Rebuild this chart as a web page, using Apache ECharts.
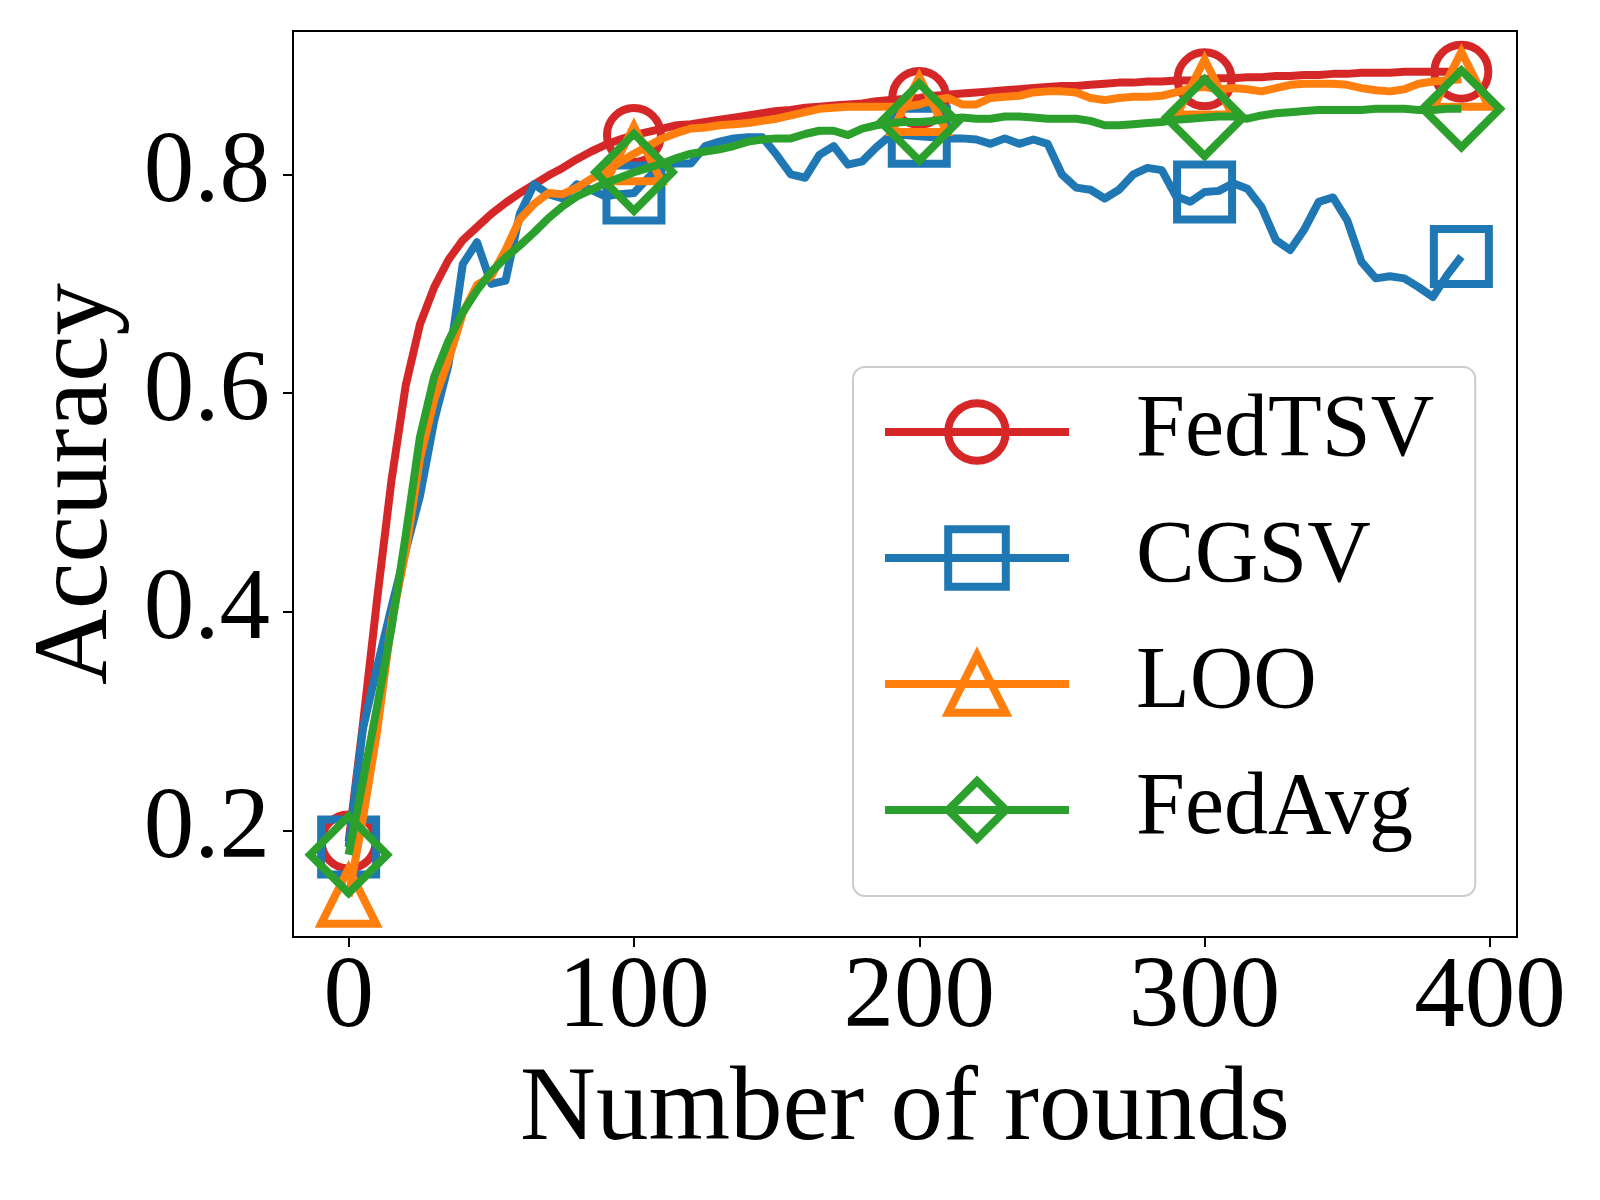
<!DOCTYPE html>
<html>
<head>
<meta charset="utf-8">
<script src="https://cdn.jsdelivr.net/npm/echarts@6/dist/echarts.min.js"></script>
<style>
  html, body { margin: 0; background: #fff; }
  #chart { width: 1600px; height: 1200px; }
</style>
</head>
<body>
<div id="chart"></div>
<script>
// rounds 0..390, one reading every 5 rounds
const rounds = Array.from({ length: 79 }, (_, i) => i * 5)
const markerRounds = [0, 100, 200, 300, 390]
const xTicks = [0, 100, 200, 300, 400]
const yTicks = [0.2, 0.4, 0.6, 0.8]

const fedTSV = [
  0.190, 0.297, 0.412, 0.520, 0.607, 0.663, 0.697, 0.722, 0.740, 0.752,
  0.764, 0.774, 0.783, 0.791, 0.799, 0.806, 0.814, 0.821, 0.827, 0.832,
  0.836, 0.839, 0.842, 0.845, 0.846, 0.848, 0.850, 0.852, 0.854, 0.856,
  0.858, 0.859, 0.861, 0.862, 0.863, 0.864, 0.865, 0.867, 0.868, 0.869,
  0.870, 0.872, 0.873, 0.874, 0.875, 0.876, 0.877, 0.878, 0.879, 0.880,
  0.881, 0.881, 0.882, 0.883, 0.884, 0.884, 0.885, 0.885, 0.886, 0.886,
  0.887, 0.888, 0.888, 0.889, 0.889, 0.890, 0.890, 0.891, 0.891, 0.892,
  0.892, 0.893, 0.893, 0.893, 0.894, 0.894, 0.894, 0.894, 0.894
]
const cgsv = [
  0.185, 0.293, 0.350, 0.404, 0.456, 0.506, 0.575, 0.626, 0.718, 0.738,
  0.700, 0.703, 0.764, 0.791, 0.782, 0.778, 0.791, 0.786, 0.780, 0.782,
  0.783, 0.797, 0.809, 0.810, 0.810, 0.826, 0.830, 0.833, 0.834, 0.834,
  0.818, 0.800, 0.797, 0.818, 0.826, 0.809, 0.812, 0.825, 0.836, 0.836,
  0.835, 0.834, 0.833, 0.833, 0.832, 0.828, 0.833, 0.828, 0.832, 0.828,
  0.800, 0.788, 0.786, 0.778, 0.786, 0.800, 0.806, 0.804, 0.780, 0.775,
  0.784, 0.785, 0.792, 0.787, 0.770, 0.740, 0.731, 0.750, 0.775, 0.779,
  0.758, 0.720, 0.705, 0.707, 0.705, 0.697, 0.688, 0.708, 0.725
]
const loo = [
  0.140, 0.211, 0.291, 0.390, 0.455, 0.540, 0.594, 0.630, 0.673, 0.699,
  0.707, 0.731, 0.759, 0.773, 0.783, 0.782, 0.788, 0.796, 0.803, 0.811,
  0.819, 0.826, 0.833, 0.838, 0.842, 0.843, 0.845, 0.846, 0.847, 0.849,
  0.851, 0.854, 0.857, 0.860, 0.861, 0.862, 0.862, 0.862, 0.862, 0.862,
  0.864, 0.868, 0.870, 0.864, 0.864, 0.870, 0.871, 0.872, 0.875, 0.876,
  0.876, 0.875, 0.870, 0.868, 0.870, 0.871, 0.871, 0.872, 0.875, 0.879,
  0.880, 0.878, 0.879, 0.878, 0.876, 0.879, 0.882, 0.883, 0.883, 0.883,
  0.882, 0.879, 0.877, 0.876, 0.878, 0.883, 0.885, 0.886, 0.887
]
const fedAvg = [
  0.178, 0.245, 0.314, 0.385, 0.470, 0.560, 0.615, 0.648, 0.674, 0.694,
  0.711, 0.724, 0.735, 0.747, 0.760, 0.771, 0.780, 0.786, 0.792, 0.797,
  0.802, 0.806, 0.810, 0.815, 0.819, 0.821, 0.823, 0.826, 0.830, 0.832,
  0.833, 0.833, 0.837, 0.840, 0.840, 0.836, 0.842, 0.845, 0.847, 0.848,
  0.848, 0.849, 0.851, 0.852, 0.851, 0.851, 0.853, 0.853, 0.852, 0.851,
  0.851, 0.851, 0.849, 0.845, 0.845, 0.846, 0.847, 0.848, 0.850, 0.851,
  0.852, 0.853, 0.853, 0.851, 0.854, 0.856, 0.857, 0.858, 0.859, 0.859,
  0.859, 0.859, 0.860, 0.860, 0.860, 0.859, 0.859, 0.860, 0.860
]

const font = '"Liberation Serif", "Times New Roman", serif'
const lineW = 8

// markers only every 100 rounds (plus the last one)
const toData = (vals) => vals.map((v, i) => {
  const r = rounds[i]
  return markerRounds.includes(r) ? [r, v] : { value: [r, v], symbol: 'none' }
})

const makeSeries = (name, vals, color, symbol, symbolSize, z) => ({
  name,
  type: 'line',
  data: toData(vals),
  symbol,
  symbolSize,
  showAllSymbol: true,
  z,
  lineStyle: { color, width: lineW, join: 'round' },
  itemStyle: { color: 'rgba(0,0,0,0)', borderColor: color, borderWidth: lineW },
  emphasis: { disabled: true }
})

const chart = echarts.init(document.getElementById('chart'))
chart.setOption({
  animation: false,
  backgroundColor: '#fff',
  grid: {
    left: 293, right: 83, top: 31, bottom: 263,
    show: true, borderColor: '#000', borderWidth: 2,
    outerBoundsMode: 'none'
  },
  legend: {
    orient: 'vertical',
    left: 853,
    top: 367,
    padding: [21, 41, 42, 28],
    itemWidth: 184,
    itemHeight: 72,
    itemGap: 38,
    backgroundColor: 'rgba(255,255,255,0.8)',
    borderColor: '#cccccc',
    borderWidth: 2,
    borderRadius: 12,
    itemStyle: { borderWidth: lineW },
    lineStyle: { width: lineW },
    textStyle: { fontFamily: font, fontSize: 88, color: '#000', padding: [0, 0, 0, 62] },
    data: ['FedTSV', 'CGSV', 'LOO', 'FedAvg']
  },
  xAxis: {
    type: 'value',
    min: -19.5,
    max: 409.5,
    axisLine: { show: true, onZero: false, lineStyle: { color: '#000', width: 2 } },
    splitLine: { show: false },
    axisTick: { customValues: xTicks, length: 10, lineStyle: { color: '#000', width: 2 } },
    axisLabel: { customValues: xTicks, fontFamily: font, fontSize: 101, color: '#000', margin: 12 },
    name: 'Number of rounds',
    nameLocation: 'middle',
    nameGap: 122,
    nameTextStyle: { fontFamily: font, fontSize: 105, color: '#000' }
  },
  yAxis: {
    type: 'value',
    min: 0.1027,
    max: 0.9312,
    axisLine: { show: true, onZero: false, lineStyle: { color: '#000', width: 2 } },
    splitLine: { show: false },
    axisTick: { customValues: yTicks, length: 10, lineStyle: { color: '#000', width: 2 } },
    axisLabel: {
      customValues: yTicks, fontFamily: font, fontSize: 101, color: '#000', margin: 23,
      formatter: (v) => v.toFixed(1)
    },
    name: 'Accuracy',
    nameLocation: 'middle',
    nameGap: 162,
    nameTextStyle: { fontFamily: font, fontSize: 105, color: '#000' }
  },
  series: [
    makeSeries('FedTSV', fedTSV, '#d62728', 'circle', 54, 2),
    makeSeries('CGSV', cgsv, '#1f77b4', 'rect', 55, 3),
    makeSeries('LOO', loo, '#ff7f0e', 'triangle', 55, 4),
    makeSeries('FedAvg', fedAvg, '#2ca02c', 'diamond', 77, 5)
  ]
})
</script>
</body>
</html>
